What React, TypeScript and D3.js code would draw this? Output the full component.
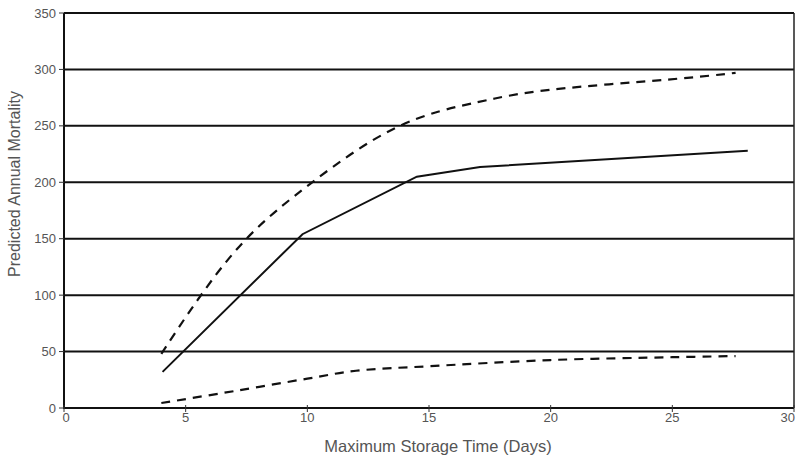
import React from "react";
import * as d3 from "d3";

const xTicks = [0, 5, 10, 15, 20, 25, 30];
const yTicks = [0, 50, 100, 150, 200, 250, 300, 350];

const centralDays = [4.05, 9.8, 14.5, 17.1, 28.1];
const centralMortality = [32, 154, 205, 213.5, 228];

const upperDays = [4, 5.5, 7.5, 10.2, 13.7, 17, 20, 24.8, 27.6];
const upperMortality = [48, 96, 150, 200, 249, 271, 282, 291, 297];

const lowerDays = [4, 7, 10, 12, 15, 20, 25, 27.6];
const lowerMortality = [4.4, 15, 26, 33, 37, 42.5, 45, 46];

const W = 796;
const H = 457;
const L = 64;
const R = 794;
const T = 13;
const B = 408;

export default function App() {
  const x = d3.scaleLinear().domain([0, 30]).range([L, R]);
  const y = d3.scaleLinear().domain([0, 350]).range([B, T]);

  const toPts = (xs: number[], ys: number[]) => xs.map((d, i) => [d, ys[i]] as [number, number]);

  const linear = d3
    .line<[number, number]>()
    .x((d) => x(d[0]))
    .y((d) => y(d[1]));
  const natural = d3
    .line<[number, number]>()
    .x((d) => x(d[0]))
    .y((d) => y(d[1]))
    .curve(d3.curveNatural);
  const smooth = d3
    .line<[number, number]>()
    .x((d) => x(d[0]))
    .y((d) => y(d[1]))
    .curve(d3.curveCatmullRom.alpha(0.5));

  const textColor = "#555";
  const font = "'Liberation Sans', Arial, sans-serif";

  return (
    <svg
      width={W}
      height={H}
      style={{ position: "absolute", left: 0, top: 0, background: "#fff" }}
      fontFamily={font}
    >
      {/* gridlines */}
      {yTicks.map((t) => (
        <line key={"g" + t} x1={L} x2={R} y1={y(t)} y2={y(t)} stroke="#111" strokeWidth={2} />
      ))}
      {/* right border */}
      <line x1={R} x2={R} y1={T} y2={B} stroke="#222" strokeWidth={1.5} />
      {/* left axis */}
      <line x1={L} x2={L} y1={T} y2={B + 1} stroke="#111" strokeWidth={2} />
      {/* y ticks */}
      {yTicks.map((t) => (
        <g key={"y" + t}>
          <line x1={L - 5} x2={L} y1={y(t)} y2={y(t)} stroke="#333" strokeWidth={1} />
          <text
            x={L - 8}
            y={y(t)}
            dy="0.35em"
            textAnchor="end"
            fontSize={13}
            fill={textColor}
          >
            {t}
          </text>
        </g>
      ))}
      {/* x ticks */}
      {xTicks.map((t) => (
        <g key={"x" + t}>
          <line x1={x(t)} x2={x(t)} y1={B - 3} y2={B + 4} stroke="#333" strokeWidth={1} />
          <text
            x={t === 30 ? W - 1 : x(t) + (t === 0 ? 2 : 0)}
            y={B + 14}
            textAnchor={t === 30 ? "end" : "middle"}
            fontSize={13}
            fill={textColor}
          >
            {t}
          </text>
        </g>
      ))}
      {/* series */}
      <path
        d={natural(toPts(upperDays, upperMortality)) || ""}
        fill="none"
        stroke="#111"
        strokeWidth={2.2}
        strokeDasharray="9 7"
      />
      <path
        d={smooth(toPts(lowerDays, lowerMortality)) || ""}
        fill="none"
        stroke="#111"
        strokeWidth={2.2}
        strokeDasharray="9 7"
      />
      <path
        d={linear(toPts(centralDays, centralMortality)) || ""}
        fill="none"
        stroke="#111"
        strokeWidth={2}
      />
      {/* axis titles */}
      <text x={438} y={452} textAnchor="middle" fontSize={16.5} fill={textColor}>
        Maximum Storage Time (Days)
      </text>
      <text
        transform={`translate(20, 184) rotate(-90)`}
        textAnchor="middle"
        fontSize={16}
        fill={textColor}
      >
        Predicted Annual Mortality
      </text>
    </svg>
  );
}
